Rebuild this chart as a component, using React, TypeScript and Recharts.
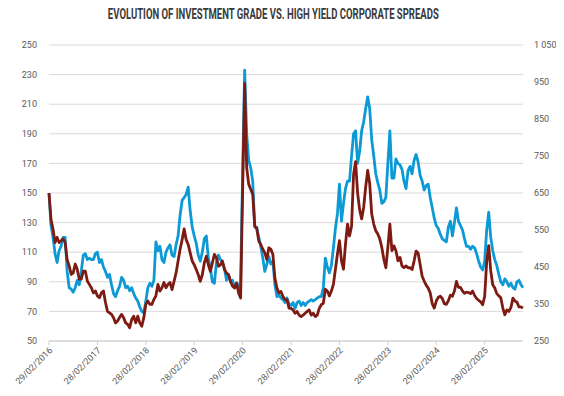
import { LineChart, Line, XAxis, YAxis, CartesianGrid } from 'recharts';

// x = half-month index starting 29/02/2016
const TICK_LABELS = [
  '29/02/2016', '28/02/2017', '28/02/2018', '28/02/2019', '29/02/2020',
  '28/02/2021', '28/02/2022', '28/02/2023', '29/02/2024', '28/02/2025',
];
const X_TICKS = [0, 24, 48, 72, 96, 120, 144, 168, 192, 216];
const IG_TICKS = [50, 70, 90, 110, 130, 150, 170, 190, 210, 230, 250];
const HY_TICKS = [250, 350, 450, 550, 650, 750, 850, 950, 1050];

// investment grade (left axis, bp)
const igSpread = [
  150, 128, 120, 109, 103, 111, 114, 120, 120, 97, 86, 85, 83, 86, 91, 88, 97, 108, 109, 105,
  106, 105, 105, 109, 110, 103, 105, 100, 97, 93, 95, 88, 82, 80, 84, 87, 93, 91, 86, 87,
  84, 86, 82, 79, 77, 73, 70, 69, 77, 86, 89, 87, 91, 117, 111, 114, 105, 103, 110, 113,
  115, 108, 107, 115, 121, 135, 145, 147, 149, 154, 138, 127, 121, 116, 108, 104, 110, 119, 121, 106,
  99, 90, 89, 103, 108, 105, 103, 99, 91, 95, 90, 91, 86, 89, 86, 90, 163, 233, 190, 172,
  167, 158, 127, 127, 120, 114, 106, 97, 102, 107, 102, 104, 88, 80, 81, 79, 78, 76, 79, 75,
  74, 76, 72, 76, 77, 74, 76, 74, 76, 77, 78, 77, 78, 79, 80, 80, 86, 106, 100, 96,
  101, 113, 126, 136, 156, 131, 143, 153, 158, 158, 175, 190, 192, 170, 178, 192, 198, 207, 215, 207,
  186, 175, 163, 157, 152, 143, 144, 147, 170, 192, 160, 160, 173, 170, 169, 166, 158, 153, 165, 168,
  163, 172, 176, 171, 162, 158, 152, 155, 156, 147, 140, 133, 128, 126, 122, 119, 118, 117, 127, 131,
  121, 130, 140, 131, 128, 125, 119, 114, 114, 112, 114, 113, 109, 104, 100, 98, 104, 125, 137, 120,
  111, 105, 101, 95, 90, 88, 92, 90, 87, 89, 86, 85, 90, 91, 88, 86,
];

// high yield (right axis, bp)
const hySpread = [
  650, 578, 552, 516, 530, 516, 521, 526, 516, 470, 453, 430, 434, 458, 444, 417, 417, 439, 439, 412,
  403, 394, 380, 385, 372, 367, 380, 385, 354, 330, 326, 322, 313, 299, 304, 314, 322, 313, 299, 295,
  286, 308, 317, 299, 317, 299, 290, 313, 349, 358, 349, 349, 362, 372, 403, 385, 394, 408, 394, 403,
  408, 389, 411, 434, 466, 498, 524, 553, 524, 511, 488, 466, 456, 443, 429, 411, 429, 461, 479, 456,
  438, 461, 484, 475, 452, 456, 466, 443, 434, 429, 411, 398, 393, 407, 380, 366, 656, 946, 719, 674,
  660, 647, 561, 553, 520, 511, 498, 488, 470, 502, 498, 484, 420, 393, 380, 384, 370, 362, 362, 339,
  338, 334, 325, 330, 320, 316, 320, 325, 330, 334, 320, 325, 316, 320, 338, 348, 352, 390, 385, 372,
  385, 403, 444, 485, 521, 467, 444, 512, 566, 534, 560, 700, 735, 650, 605, 580, 611, 666, 711, 675,
  593, 566, 548, 539, 526, 503, 471, 448, 503, 566, 494, 507, 494, 467, 476, 453, 448, 453, 448, 448,
  443, 466, 493, 488, 457, 425, 412, 401, 393, 380, 351, 339, 358, 368, 371, 365, 351, 349, 359, 374,
  371, 385, 411, 395, 395, 385, 379, 382, 381, 378, 385, 373, 365, 360, 356, 348, 371, 465, 508, 440,
  402, 393, 378, 372, 367, 339, 321, 334, 330, 340, 366, 358, 355, 342, 342, 339,
];

const data = igSpread.map((ig, i) => ({ t: i, ig, hy: hySpread[i] }));

const TICK_STYLE = { fontSize: 9, fill: '#595959', fontFamily: 'Roboto' };

function DateTick({ x, y, payload }: any) {
  const label = TICK_LABELS[X_TICKS.indexOf(payload.value)];
  const ax = x + 4;
  const ay = y + 4;
  return (
    <text
      x={ax}
      y={ay}
      transform={`rotate(-45 ${ax} ${ay})`}
      textAnchor="end"
      {...TICK_STYLE}
    >
      {label}
    </text>
  );
}

const formatHy = (v: number) => (v >= 1000 ? `${Math.floor(v / 1000)} ${String(v % 1000).padStart(3, '0')}` : `${v}`);

export default function App() {
  return (
    <div style={{ position: 'relative', width: 564, height: 396, margin: -8, background: '#fff' }}>
      <div
        style={{
          position: 'absolute',
          left: 0,
          top: 6,
          width: 546,
          textAlign: 'center',
          fontFamily: 'Roboto',
          fontWeight: 700,
          fontSize: 14,
          lineHeight: '16px',
          color: '#3a3a3a',
          whiteSpace: 'nowrap',
        }}
      >
        <span style={{ display: 'inline-block', transform: 'scaleX(0.68)' }}>
          EVOLUTION OF INVESTMENT GRADE VS. HIGH YIELD CORPORATE SPREADS
        </span>
      </div>
      <LineChart width={564} height={396} data={data} margin={{ top: 45, right: 0, bottom: 0, left: 0 }}>
        <CartesianGrid yAxisId="left" vertical={false} stroke="#d9d9d9" />
        <XAxis
          dataKey="t"
          type="number"
          domain={[0, 235]}
          ticks={X_TICKS}
          interval={0}
          height={55}
          tickSize={4}
          tickMargin={2}
          stroke="#cfcfcf"
          tick={<DateTick />}
        />
        <YAxis
          yAxisId="left"
          domain={[50, 250]}
          ticks={IG_TICKS}
          interval={0}
          width={49}
          axisLine={false}
          tickLine={false}
          tickMargin={6}
          tick={TICK_STYLE}
        />
        <YAxis
          yAxisId="right"
          orientation="right"
          domain={[250, 1050]}
          ticks={HY_TICKS}
          interval={0}
          width={41}
          axisLine={false}
          tickLine={false}
          tickMargin={5}
          tick={{ ...TICK_STYLE, textAnchor: 'start' }}
          tickFormatter={formatHy}
        />
        <Line
          yAxisId="left"
          dataKey="ig"
          type="linear"
          stroke="#0b9ad6"
          strokeWidth={2.8}
          strokeLinejoin="round"
          dot={false}
          isAnimationActive={false}
        />
        <Line
          yAxisId="right"
          dataKey="hy"
          type="linear"
          stroke="#7d1a12"
          strokeWidth={2.8}
          strokeLinejoin="round"
          dot={false}
          isAnimationActive={false}
        />
      </LineChart>
    </div>
  );
}
